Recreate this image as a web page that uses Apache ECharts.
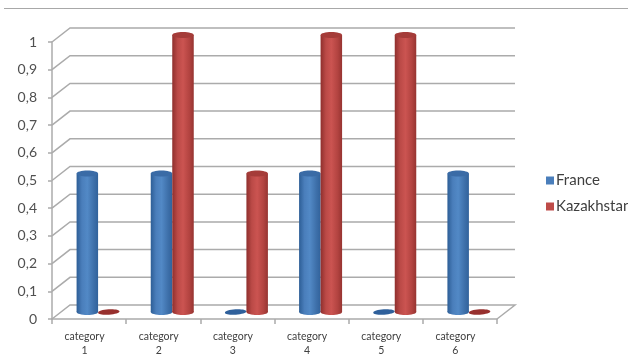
<!DOCTYPE html>
<html>
<head>
<meta charset="utf-8">
<style>html,body{margin:0;padding:0;background:#fff}#chart{width:628px;height:355px}</style>
<script src="https://cdn.jsdelivr.net/npm/echarts@6/dist/echarts.min.js"></script>
</head>
<body>
<div id="chart"></div>
<script>
const categories = ['category 1', 'category 2', 'category 3', 'category 4', 'category 5', 'category 6'];
const france = [0.5, 0.5, 0, 0.5, 0, 0.5];
const kazakhstan = [0, 1, 0.5, 1, 1, 0];
const valueTicks = [0, 0.1, 0.2, 0.3, 0.4, 0.5, 0.6, 0.7, 0.8, 0.9, 1];

// Depth of the pseudo-3D box and of the row the cylinders stand in.
const WALL_DX = 18, WALL_DY = -14;
const ROW_DX = 9, ROW_DY = -7;
const BAR_W = 21.5, CAP_RY = 3;
const GRID_COLOR = '#ababab';

const palette = {
  blue: {
    flat: '#2f609b', top: '#3a6ba6',
    stops: ['#2d5e96', '#4a7ebb', '#5289c6', '#3e70aa', '#31629b']
  },
  red: {
    flat: '#97302e', top: '#a53c39',
    stops: ['#8f2f2d', '#bb4a47', '#cb5451', '#b24340', '#963431']
  }
};

function cylinder(side, tone) {
  return function (params, api) {
    const i = api.value(0), v = api.value(1);
    const base = api.coord([i, 0]);
    const top = api.coord([i, v]);
    const x0 = base[0] + ROW_DX + (side < 0 ? -BAR_W : 0);
    const cx = x0 + BAR_W / 2;
    const yBase = base[1] + ROW_DY;
    const yTop = top[1] + ROW_DY;
    const c = palette[tone];
    if (v === 0) {
      // A zero value collapses to a flat disc lying on the floor.
      return {
        type: 'ellipse',
        originX: cx,
        originY: yBase,
        rotation: 0.06,
        shape: { cx: cx, cy: yBase, rx: BAR_W / 2, ry: 2.8 },
        style: { fill: c.flat }
      };
    }
    const fill = new echarts.graphic.LinearGradient(0, 0, 1, 0, [
      { offset: 0, color: c.stops[0] },
      { offset: 0.25, color: c.stops[1] },
      { offset: 0.5, color: c.stops[2] },
      { offset: 0.8, color: c.stops[3] },
      { offset: 1, color: c.stops[4] }
    ]);
    return {
      type: 'group',
      children: [
        { type: 'ellipse', shape: { cx: cx, cy: yBase, rx: BAR_W / 2, ry: CAP_RY }, style: { fill: fill } },
        { type: 'rect', shape: { x: x0, y: yTop, width: BAR_W, height: yBase - yTop }, style: { fill: fill } },
        { type: 'ellipse', shape: { cx: cx, cy: yTop, rx: BAR_W / 2, ry: CAP_RY }, style: { fill: c.top } }
      ]
    };
  };
}

// Back wall rules, each turning the corner from the value axis.
function wallLine(params, api) {
  const v = api.value(1);
  const band = api.size([1, 0])[0];
  const left = api.coord([0, v]);
  left[0] -= band / 2;
  const right = api.coord([categories.length - 1, v]);
  right[0] += band / 2;
  const pts = [left, [left[0] + WALL_DX, left[1] + WALL_DY], [right[0] + WALL_DX, right[1] + WALL_DY]];
  if (v === 0) pts.push(right);
  return {
    type: 'polyline',
    shape: { points: pts },
    style: { stroke: GRID_COLOR, lineWidth: 1.5, fill: null }
  };
}

const chart = echarts.init(document.getElementById('chart'), null, { renderer: 'canvas' });
chart.setOption({
  animation: false,
  backgroundColor: '#ffffff',
  color: ['#4a7ebb', '#be4b48'],
  textStyle: { fontFamily: 'Lato' },
  graphic: [{
    type: 'line',
    shape: { x1: 4, y1: 8.5, x2: 628, y2: 8.5 },
    style: { stroke: '#a8a8a8', lineWidth: 1 }
  }],
  grid: { left: 52, right: 131, top: 42, bottom: 36, outerBoundsMode: 'none' },
  legend: {
    data: ['France', 'Kazakhstan'],
    orient: 'vertical',
    left: 546,
    top: 173,
    padding: 0,
    icon: 'rect',
    itemWidth: 8,
    itemHeight: 8,
    itemGap: 11,
    selectedMode: false,
    textStyle: { fontFamily: 'Lato', fontSize: 15, color: '#3f3f3f', padding: [0, 0, 0, -3] }
  },
  xAxis: {
    type: 'category',
    data: categories,
    axisLine: { lineStyle: { color: GRID_COLOR, width: 1.5 } },
    axisTick: { show: true, alignWithLabel: false, length: 5, lineStyle: { color: GRID_COLOR, width: 1.5 } },
    axisLabel: {
      interval: 0,
      margin: 11,
      fontFamily: 'Lato',
      fontSize: 10.5,
      lineHeight: 14,
      color: '#404040',
      padding: [0, 9, 0, 0],
      formatter: v => v.replace(' ', '\n')
    }
  },
  yAxis: {
    type: 'value',
    min: 0,
    max: 1,
    interval: 0.1,
    splitLine: { show: false },
    axisLine: { show: true, lineStyle: { color: GRID_COLOR, width: 1.5 } },
    axisTick: { show: true, length: 4, lineStyle: { color: GRID_COLOR, width: 1.5 } },
    axisLabel: {
      margin: 15,
      fontFamily: 'Lato',
      fontSize: 14,
      color: '#505050',
      formatter: v => String(v).replace('.', ',')
    }
  },
  series: [
    {
      name: 'wall',
      type: 'custom',
      silent: true,
      z: 1,
      renderItem: wallLine,
      encode: { x: 0, y: 1 },
      data: valueTicks.map(v => [0, v])
    },
    {
      name: 'France',
      type: 'custom',
      z: 3,
      renderItem: cylinder(-1, 'blue'),
      encode: { x: 0, y: 1 },
      itemStyle: { color: '#4a7ebb' },
      data: france.map((v, i) => [i, v])
    },
    {
      name: 'Kazakhstan',
      type: 'custom',
      z: 4,
      renderItem: cylinder(1, 'red'),
      encode: { x: 0, y: 1 },
      itemStyle: { color: '#be4b48' },
      data: kazakhstan.map((v, i) => [i, v])
    }
  ]
});
</script>
</body>
</html>
